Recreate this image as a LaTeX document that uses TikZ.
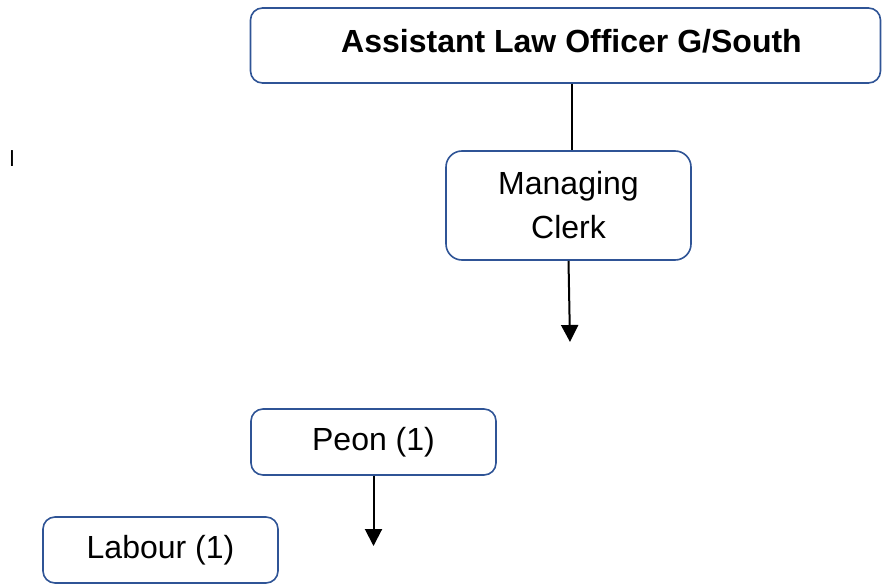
\documentclass[tikz,border=0pt]{standalone}
\usepackage{fontspec}
\setmainfont{Liberation Sans}
\usetikzlibrary{arrows.meta}
\definecolor{boxblue}{RGB}{47,84,150}

\begin{document}
\begin{tikzpicture}[x=1pt, y=-1pt,
        org_box/.style={
            draw=boxblue, line width=1.6pt, rounded corners=12pt, fill=white,
            align=center, inner sep=0pt, font=\fontsize{32}{44}\selectfont
        },
        down_arrow/.style={
            -{Triangle[width=17pt, length=17pt]}, line width=2pt
        }
    ]
    \useasboundingbox (0,0) rectangle (882,585);

    % Define the boxes (Top to Bottom)
    \node[org_box, minimum width=630pt, text height=45pt, text depth=30pt,
          font=\fontsize{32}{44}\selectfont\bfseries] (officer) at (565.5,45.5) {\hspace*{12pt}Assistant Law Officer G/South};
    \node[org_box, minimum width=245pt, minimum height=109pt, rounded corners=16pt] (clerk) at (568.5,205.5) {Managing\\Clerk};
    \node[org_box, minimum width=245pt, minimum height=66pt] (peon) at (373.5,442) {Peon (1)};
    \node[org_box, minimum width=235pt, minimum height=66pt] (labour) at (160.5,550) {Labour (1)};
    \node[inner sep=0pt, font=\fontsize{22}{22}\selectfont] (stray) at (12,159) {l};

    % Connectors
    \coordinate (clerk_end) at (570,342);
    \coordinate (peon_end) at (373.5,546);
    \draw[line width=1.5pt] ([xshift=3.5pt]clerk.north |- officer.south) -- ([xshift=3.5pt]clerk.north);
    \draw[down_arrow] (clerk.south) -- (clerk_end);
    \draw[down_arrow] (peon.south) -- (peon_end);

\end{tikzpicture}
\end{document}
